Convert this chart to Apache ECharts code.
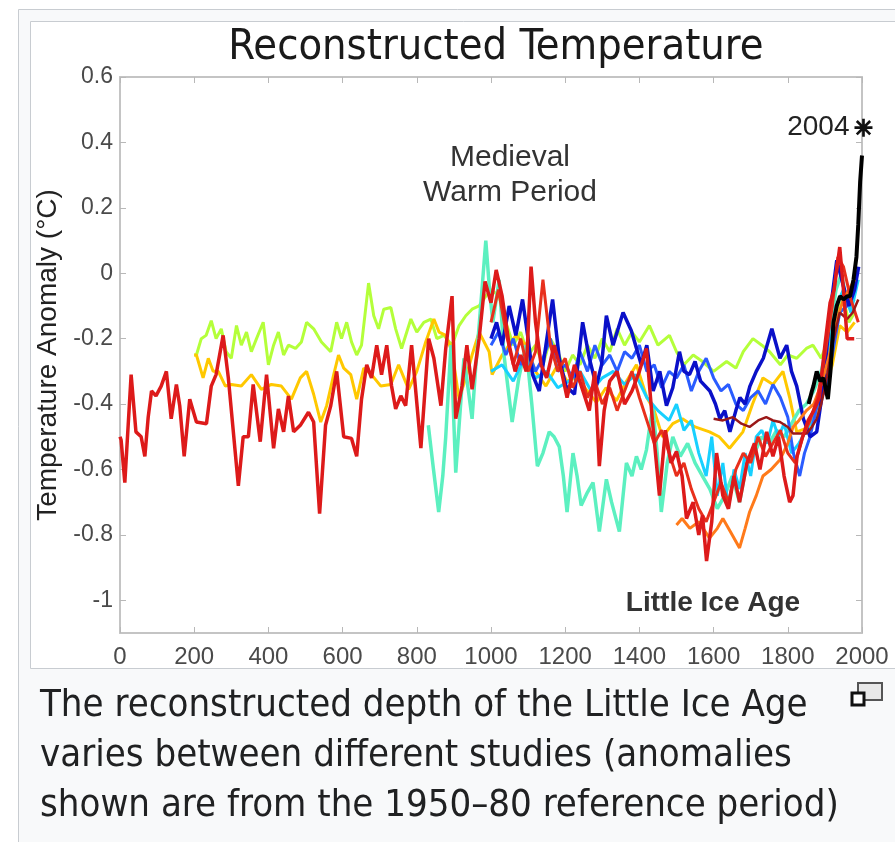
<!DOCTYPE html>
<html>
<head>
<meta charset="utf-8">
<script src="https://cdn.jsdelivr.net/npm/echarts@6/dist/echarts.min.js"></script>
<style>
html,body{margin:0;padding:0;background:#fff;}
#chart{width:895px;height:842px;}
</style>
</head>
<body>
<div id="chart"></div>
<script>
// ---------- data ----------
const xTicks = [0, 200, 400, 600, 800, 1000, 1200, 1400, 1600, 1800, 2000];
const yTicks = [-1, -0.8, -0.6, -0.4, -0.2, 0, 0.2, 0.4, 0.6];

const greenSeries = [[200,-0.25],[206,-0.25],[219,-0.20],[232,-0.19],[246,-0.145],[259,-0.20],[273,-0.17],[286,-0.24],[300,-0.26],[314,-0.16],[327,-0.22],[341,-0.18],[354,-0.24],[368,-0.20],[386,-0.15],[400,-0.28],[414,-0.22],[427,-0.18],[441,-0.25],[454,-0.22],[473,-0.23],[489,-0.21],[503,-0.15],[522,-0.17],[543,-0.21],[568,-0.24],[584,-0.15],[597,-0.20],[611,-0.15],[624,-0.21],[638,-0.25],[651,-0.22],[670,-0.03],[684,-0.13],[697,-0.17],[711,-0.11],[730,-0.105],[743,-0.17],[759,-0.23],[784,-0.14],[800,-0.18],[819,-0.15],[838,-0.14],[854,-0.20],[873,-0.19],[895,-0.22],[914,-0.16],[932,-0.13],[949,-0.11],[968,-0.10],[986,-0.07],[1000,-0.05],[1022,-0.07],[1040,-0.15],[1060,-0.22],[1080,-0.18],[1100,-0.25],[1120,-0.22],[1140,-0.28],[1160,-0.20],[1180,-0.24],[1200,-0.30],[1220,-0.25],[1240,-0.28],[1260,-0.22],[1280,-0.26],[1300,-0.20],[1320,-0.24],[1340,-0.17],[1360,-0.22],[1380,-0.18],[1400,-0.21],[1427,-0.16],[1450,-0.22],[1481,-0.19],[1500,-0.24],[1520,-0.28],[1545,-0.25],[1570,-0.27],[1600,-0.30],[1635,-0.27],[1660,-0.29],[1680,-0.24],[1706,-0.20],[1730,-0.22],[1751,-0.24],[1780,-0.28],[1800,-0.25],[1824,-0.26],[1850,-0.23],[1868,-0.22],[1890,-0.26],[1910,-0.20],[1930,-0.12],[1950,-0.08],[1965,-0.15],[1980,-0.12]];

const goldSeries = [[200,-0.25],[206,-0.25],[224,-0.32],[238,-0.26],[251,-0.30],[265,-0.30],[284,-0.345],[300,-0.34],[327,-0.345],[354,-0.31],[381,-0.355],[408,-0.34],[435,-0.345],[462,-0.385],[486,-0.32],[503,-0.30],[522,-0.37],[541,-0.455],[557,-0.405],[576,-0.31],[589,-0.25],[603,-0.29],[622,-0.31],[638,-0.385],[657,-0.29],[678,-0.31],[703,-0.345],[730,-0.34],[751,-0.28],[778,-0.355],[800,-0.30],[824,-0.21],[846,-0.14],[860,-0.18],[878,-0.19],[895,-0.24],[914,-0.385],[932,-0.32],[949,-0.25],[968,-0.18],[995,-0.24],[1003,-0.31],[1030,-0.25],[1067,-0.19],[1095,-0.22],[1120,-0.30],[1148,-0.345],[1180,-0.28],[1205,-0.33],[1230,-0.32],[1260,-0.36],[1284,-0.395],[1310,-0.35],[1338,-0.39],[1365,-0.33],[1392,-0.28],[1420,-0.38],[1440,-0.42],[1462,-0.50],[1490,-0.46],[1516,-0.445],[1550,-0.47],[1589,-0.485],[1615,-0.50],[1643,-0.535],[1679,-0.485],[1705,-0.40],[1733,-0.32],[1760,-0.34],[1787,-0.30],[1805,-0.38],[1824,-0.485],[1860,-0.47],[1880,-0.42],[1900,-0.35],[1920,-0.28],[1940,-0.16],[1960,-0.18],[1980,-0.15]];

const aquaSeries = [[831,-0.465],[845,-0.60],[859,-0.73],[870,-0.62],[878,-0.50],[892,-0.22],[905,-0.61],[915,-0.45],[927,-0.26],[938,-0.35],[949,-0.445],[958,-0.30],[968,-0.16],[986,0.10],[996,-0.05],[1005,-0.15],[1022,-0.02],[1035,-0.25],[1057,-0.455],[1075,-0.32],[1094,-0.22],[1110,-0.40],[1125,-0.59],[1140,-0.55],[1157,-0.485],[1170,-0.50],[1184,-0.53],[1195,-0.62],[1205,-0.73],[1221,-0.55],[1232,-0.62],[1243,-0.71],[1260,-0.67],[1275,-0.64],[1292,-0.79],[1311,-0.63],[1325,-0.70],[1346,-0.79],[1365,-0.58],[1380,-0.62],[1392,-0.56],[1405,-0.60],[1419,-0.54],[1436,-0.405],[1448,-0.55],[1459,-0.73],[1475,-0.58],[1490,-0.50],[1510,-0.56],[1530,-0.52],[1550,-0.58],[1570,-0.62],[1590,-0.66],[1610,-0.72],[1630,-0.68],[1650,-0.62],[1670,-0.70],[1690,-0.58],[1710,-0.55],[1730,-0.50],[1750,-0.52],[1770,-0.48],[1790,-0.50],[1810,-0.46],[1830,-0.42],[1850,-0.40],[1870,-0.36],[1890,-0.30],[1910,-0.20],[1930,-0.05],[1945,0.00],[1960,-0.10],[1980,-0.08]];

const cyanSeries = [[1000,-0.30],[1030,-0.28],[1060,-0.33],[1090,-0.26],[1120,-0.32],[1150,-0.30],[1180,-0.35],[1210,-0.33],[1240,-0.30],[1270,-0.36],[1300,-0.32],[1330,-0.30],[1360,-0.34],[1390,-0.31],[1420,-0.38],[1450,-0.42],[1480,-0.45],[1500,-0.40],[1520,-0.48],[1540,-0.45],[1560,-0.55],[1580,-0.62],[1595,-0.50],[1610,-0.68],[1625,-0.58],[1640,-0.72],[1655,-0.60],[1670,-0.66],[1685,-0.55],[1700,-0.62],[1715,-0.50],[1730,-0.48],[1745,-0.52],[1760,-0.45],[1775,-0.50],[1790,-0.46],[1810,-0.55],[1830,-0.52],[1850,-0.48],[1870,-0.44],[1890,-0.35],[1910,-0.25],[1930,-0.10],[1950,-0.05],[1970,-0.12],[1990,-0.02]];

const blueSeries = [[1000,-0.22],[1020,-0.18],[1040,-0.25],[1060,-0.20],[1080,-0.28],[1100,-0.24],[1120,-0.30],[1140,-0.26],[1160,-0.20],[1180,-0.30],[1200,-0.28],[1220,-0.32],[1240,-0.24],[1260,-0.30],[1280,-0.22],[1300,-0.28],[1320,-0.25],[1340,-0.30],[1360,-0.24],[1380,-0.26],[1400,-0.22],[1420,-0.30],[1440,-0.28],[1460,-0.35],[1480,-0.30],[1500,-0.32],[1520,-0.28],[1540,-0.36],[1560,-0.30],[1580,-0.26],[1600,-0.32],[1620,-0.36],[1640,-0.34],[1660,-0.40],[1680,-0.42],[1700,-0.38],[1720,-0.36],[1740,-0.40],[1760,-0.34],[1780,-0.38],[1800,-0.44],[1815,-0.55],[1832,-0.62],[1845,-0.55],[1860,-0.50],[1880,-0.40],[1900,-0.36],[1920,-0.25],[1940,-0.12],[1960,-0.10],[1980,-0.02]];

const navySeries = [[1000,-0.20],[1015,-0.15],[1030,-0.22],[1049,-0.10],[1067,-0.19],[1085,-0.08],[1100,-0.20],[1112,-0.31],[1130,-0.36],[1148,-0.22],[1166,-0.08],[1184,-0.26],[1202,-0.345],[1225,-0.37],[1247,-0.15],[1265,-0.26],[1284,-0.345],[1298,-0.28],[1311,-0.13],[1329,-0.22],[1356,-0.12],[1378,-0.175],[1405,-0.28],[1420,-0.22],[1437,-0.36],[1455,-0.30],[1473,-0.405],[1490,-0.35],[1508,-0.24],[1520,-0.30],[1535,-0.31],[1550,-0.27],[1565,-0.33],[1590,-0.36],[1605,-0.40],[1617,-0.445],[1630,-0.42],[1644,-0.485],[1660,-0.42],[1671,-0.38],[1685,-0.40],[1698,-0.345],[1715,-0.30],[1734,-0.26],[1757,-0.17],[1779,-0.26],[1797,-0.22],[1810,-0.30],[1824,-0.345],[1842,-0.445],[1860,-0.50],[1878,-0.485],[1896,-0.345],[1914,-0.12],[1932,0.04],[1950,-0.04],[1965,-0.10],[1980,-0.05],[1991,0.02]];

const orangeSeries = [[1500,-0.77],[1515,-0.75],[1536,-0.78],[1560,-0.76],[1589,-0.81],[1610,-0.78],[1625,-0.75],[1645,-0.79],[1670,-0.84],[1685,-0.78],[1697,-0.73],[1715,-0.68],[1733,-0.62],[1755,-0.60],[1779,-0.57],[1800,-0.52],[1814,-0.47],[1830,-0.45],[1850,-0.42],[1870,-0.40],[1890,-0.34],[1910,-0.26],[1930,-0.15],[1950,-0.08],[1965,-0.05],[1980,-0.02]];

const red2Series = [[1000,-0.15],[1020,-0.05],[1040,-0.18],[1060,-0.28],[1080,-0.20],[1100,-0.30],[1120,-0.24],[1140,-0.02],[1160,-0.22],[1180,-0.30],[1200,-0.26],[1220,-0.35],[1240,-0.30],[1260,-0.38],[1280,-0.33],[1300,-0.40],[1320,-0.35],[1340,-0.42],[1360,-0.36],[1380,-0.30],[1400,-0.38],[1420,-0.45],[1440,-0.52],[1460,-0.48],[1480,-0.55],[1500,-0.62],[1520,-0.58],[1540,-0.66],[1560,-0.72],[1580,-0.76],[1600,-0.70],[1620,-0.64],[1640,-0.70],[1660,-0.60],[1680,-0.55],[1700,-0.58],[1720,-0.50],[1740,-0.56],[1760,-0.52],[1780,-0.48],[1800,-0.55],[1820,-0.58],[1840,-0.50],[1860,-0.45],[1880,-0.38],[1900,-0.25],[1920,-0.10],[1935,0.05],[1950,0.02],[1970,-0.08],[1990,-0.15]];

const darkRedSeries = [[1600,-0.445],[1625,-0.45],[1652,-0.44],[1675,-0.46],[1697,-0.47],[1720,-0.45],[1742,-0.44],[1760,-0.45],[1779,-0.455],[1800,-0.47],[1814,-0.49],[1835,-0.49],[1851,-0.49],[1865,-0.47],[1878,-0.445],[1890,-0.40],[1900,-0.35],[1920,-0.22],[1940,-0.12],[1960,-0.14],[1975,-0.12],[1990,-0.08]];

const redSeries = [[0,-0.50],[3,-0.51],[13,-0.64],[30,-0.31],[43,-0.485],[57,-0.50],[67,-0.56],[76,-0.44],[85,-0.36],[97,-0.375],[111,-0.345],[125,-0.30],[138,-0.445],[152,-0.34],[161,-0.405],[173,-0.56],[188,-0.385],[206,-0.455],[233,-0.46],[246,-0.345],[259,-0.31],[278,-0.19],[292,-0.32],[319,-0.65],[332,-0.50],[346,-0.50],[359,-0.34],[378,-0.515],[395,-0.31],[414,-0.535],[427,-0.415],[441,-0.485],[454,-0.375],[468,-0.485],[486,-0.465],[508,-0.425],[522,-0.455],[538,-0.735],[554,-0.465],[568,-0.405],[584,-0.30],[603,-0.50],[624,-0.505],[638,-0.56],[651,-0.385],[665,-0.28],[678,-0.32],[692,-0.22],[705,-0.31],[719,-0.22],[732,-0.345],[743,-0.415],[757,-0.375],[770,-0.405],[786,-0.22],[811,-0.535],[832,-0.20],[846,-0.26],[865,-0.405],[878,-0.23],[895,-0.07],[905,-0.445],[922,-0.345],[935,-0.22],[949,-0.355],[968,-0.20],[984,-0.025],[1000,-0.09],[1014,0.01],[1030,-0.07],[1049,-0.22],[1065,-0.30],[1080,-0.25],[1095,-0.30],[1108,0.02],[1120,-0.15],[1135,-0.28],[1150,-0.32],[1170,-0.22],[1190,-0.30],[1205,-0.38],[1225,-0.28],[1245,-0.35],[1265,-0.42],[1280,-0.30],[1292,-0.59],[1305,-0.42],[1320,-0.33],[1340,-0.30],[1360,-0.40],[1380,-0.36],[1400,-0.30],[1419,-0.23],[1435,-0.45],[1454,-0.68],[1470,-0.48],[1485,-0.58],[1500,-0.545],[1515,-0.62],[1527,-0.75],[1545,-0.70],[1560,-0.80],[1570,-0.74],[1581,-0.88],[1595,-0.76],[1608,-0.55],[1625,-0.68],[1640,-0.72],[1655,-0.62],[1670,-0.70],[1690,-0.58],[1710,-0.52],[1725,-0.60],[1743,-0.485],[1760,-0.56],[1775,-0.50],[1790,-0.62],[1805,-0.70],[1814,-0.68],[1825,-0.56],[1840,-0.50],[1855,-0.45],[1870,-0.42],[1885,-0.38],[1900,-0.22],[1914,-0.09],[1925,-0.05],[1940,0.08],[1950,-0.05],[1960,-0.20],[1979,-0.20]];

const instrumentalSeries = [[1856,-0.40],[1865,-0.36],[1869,-0.345],[1878,-0.30],[1887,-0.33],[1896,-0.32],[1908,-0.385],[1915,-0.30],[1923,-0.15],[1932,-0.10],[1941,-0.07],[1950,-0.08],[1960,-0.07],[1968,-0.07],[1977,-0.02],[1985,0.05],[1990,0.15],[1995,0.28],[2000,0.36]];

const marker2004 = [[2004, 0.445]];

// ---------- chart ----------
const chart = echarts.init(document.getElementById('chart'), null, {renderer: 'canvas'});
const labelFont = "'Liberation Sans', Arial, sans-serif";
const condFont = "'DejaVu Sans Condensed', 'DejaVu Sans', sans-serif";
const axisLineStyle = {color: '#c4c4c4', width: 2};
const tickStyle = {color: '#b8b8b8', width: 1};

function lineSeries(name, data, color, width) {
  return {
    name: name, type: 'line', data: data, showSymbol: false, symbol: 'none',
    lineStyle: {color: color, width: width}, silent: true, animation: false
  };
}

const asterisk = 'path://M8.5 0H11.5V20H8.5Z M0 8.5H20V11.5H0Z M1.5 3.6L3.6 1.5L18.5 16.4L16.4 18.5Z M16.4 1.5L18.5 3.6L3.6 18.5L1.5 16.4Z';

const option = {
  animation: false,
  backgroundColor: 'transparent',
  title: {
    text: 'Reconstructed Temperature',
    left: 491, top: 21, textAlign: 'center',
    textStyle: {fontFamily: condFont, fontSize: 43, fontWeight: 'normal', color: '#1a1a1a'}
  },
  grid: {left: 120, top: 77, width: 742, height: 556, containLabel: false},
  xAxis: [{
    type: 'value', min: 0, max: 2000, interval: 200, position: 'bottom',
    axisLine: {show: true, onZero: false, lineStyle: axisLineStyle},
    axisTick: {show: true, inside: true, length: 6, lineStyle: tickStyle},
    axisLabel: {show: true, margin: 12, fontSize: 24, fontFamily: labelFont, color: '#4a4a4a',
      formatter: function (v) { return String(v); }},
    splitLine: {show: false}
  }, {
    type: 'value', min: 0, max: 2000, interval: 200, position: 'top',
    axisLine: {show: true, onZero: false, lineStyle: axisLineStyle},
    axisTick: {show: true, inside: true, length: 6, lineStyle: tickStyle},
    axisLabel: {show: false}, splitLine: {show: false}
  }],
  yAxis: [{
    type: 'value', min: -1.1, max: 0.6, position: 'left',
    name: 'Temperature Anomaly (°C)', nameLocation: 'middle', nameRotate: 90, nameGap: 57,
    nameTextStyle: {fontFamily: labelFont, fontSize: 28, color: '#222'},
    axisLine: {show: true, onZero: false, lineStyle: axisLineStyle},
    axisTick: {show: true, inside: true, length: 6, lineStyle: tickStyle, customValues: yTicks},
    axisLabel: {show: true, margin: 7, fontSize: 23, fontFamily: labelFont, color: '#4a4a4a', customValues: yTicks,
      formatter: function (v) { return String(v); }},
    splitLine: {show: false}
  }, {
    type: 'value', min: -1.1, max: 0.6, position: 'right',
    axisLine: {show: true, onZero: false, lineStyle: axisLineStyle},
    axisTick: {show: true, inside: true, length: 6, lineStyle: tickStyle, customValues: yTicks},
    axisLabel: {show: false}, splitLine: {show: false}
  }],
  series: [
    lineSeries('Green', greenSeries, '#b4ff3a', 3),
    lineSeries('Gold', goldSeries, '#ffc800', 3),
    lineSeries('Aqua', aquaSeries, '#5cf0c0', 3.5),
    lineSeries('Cyan', cyanSeries, '#18d0ff', 3),
    lineSeries('Blue', blueSeries, '#2a5cff', 3),
    lineSeries('Navy', navySeries, '#0a10c8', 3.5),
    lineSeries('Orange', orangeSeries, '#ff7a1a', 3),
    lineSeries('Red2', red2Series, '#e8301c', 3),
    lineSeries('DarkRed', darkRedSeries, '#9a1818', 2.5),
    lineSeries('Red', redSeries, '#dd1a1a', 3.5),
    lineSeries('Instrumental', instrumentalSeries, '#000000', 4),
    {
      name: '2004', type: 'scatter', data: marker2004, symbol: asterisk, symbolSize: 18,
      clip: false, z: 10,
      itemStyle: {color: '#111', opacity: 1}, silent: true, animation: false,
      label: {show: true, position: 'left', distance: 5, formatter: '2004',
        fontFamily: labelFont, fontSize: 28, color: '#222'}
    }
  ],
  graphic: [
    {type: 'rect', z: -100, silent: true, shape: {x: 18.5, y: 9.5, width: 900, height: 900},
      style: {fill: '#f8f9fa', stroke: '#c8ccd1', lineWidth: 1}},
    {type: 'rect', z: -99, silent: true, shape: {x: 30.5, y: 21.5, width: 900, height: 647},
      style: {fill: '#ffffff', stroke: '#c8ccd1', lineWidth: 1}},
    {type: 'text', z: 50, silent: true, x: 510, y: 158,
      style: {text: 'Medieval', fontFamily: labelFont, fontSize: 30, fill: '#333', align: 'center', verticalAlign: 'middle'}},
    {type: 'text', z: 50, silent: true, x: 510, y: 193,
      style: {text: 'Warm Period', fontFamily: labelFont, fontSize: 30, fill: '#333', align: 'center', verticalAlign: 'middle'}},
    {type: 'text', z: 50, silent: true, x: 713, y: 603,
      style: {text: 'Little Ice Age', fontFamily: labelFont, fontSize: 28, fontWeight: 'bold', fill: '#333', align: 'center', verticalAlign: 'middle'}},
    {type: 'text', z: 50, silent: true, x: 40, y: 706,
      style: {text: 'The reconstructed depth of the Little Ice Age', fontFamily: condFont, fontSize: 38, fill: '#202122', align: 'left', verticalAlign: 'middle'}},
    {type: 'text', z: 50, silent: true, x: 40, y: 756,
      style: {text: 'varies between different studies (anomalies', fontFamily: condFont, fontSize: 38, fill: '#202122', align: 'left', verticalAlign: 'middle'}},
    {type: 'text', z: 50, silent: true, x: 40, y: 806,
      style: {text: 'shown are from the 1950\u201380 reference period)', fontFamily: condFont, fontSize: 38, fill: '#202122', align: 'left', verticalAlign: 'middle'}},
    {type: 'rect', z: 50, silent: true, shape: {x: 858, y: 683, width: 24, height: 17},
      style: {fill: '#e8e8e8', stroke: '#555', lineWidth: 2}},
    {type: 'rect', z: 51, silent: true, shape: {x: 852, y: 693, width: 12, height: 12},
      style: {fill: '#ffffff', stroke: '#111', lineWidth: 3}}
  ]
};
chart.setOption(option);
</script>
</body>
</html>
